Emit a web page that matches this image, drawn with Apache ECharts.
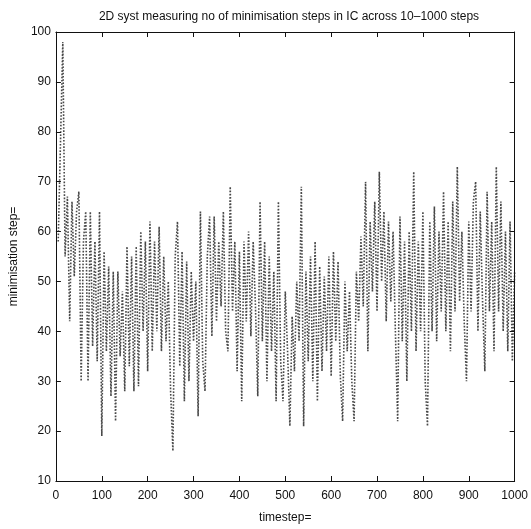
<!DOCTYPE html>
<html>
<head>
<meta charset="utf-8">
<script src="https://cdn.jsdelivr.net/npm/echarts@6/dist/echarts.min.js"></script>
<style>
html,body{margin:0;padding:0;background:#fff;}
#c{width:531px;height:529px;}
</style>
</head>
<body>
<div id="c"></div>
<script>
// sampling step of the timestep axis
const sampleStep = 5;
// minimisation steps, one value per 5 timesteps (t = 5 ... 1000)
const minSteps = [
  58, 78, 98, 55, 67, 42, 66, 51, 64, 68,
  30, 58, 64, 30, 64, 37, 58, 34, 64, 19,
  56, 36, 53, 27, 52, 22, 52, 35, 48, 28,
  57, 33, 55, 28, 57, 29, 60, 40, 58, 32,
  62, 36, 58, 40, 61, 36, 55, 38, 50, 28,
  16, 55, 62, 33, 56, 26, 54, 30, 52, 38,
  50, 23, 64, 34, 28, 55, 63, 39, 63, 42,
  58, 45, 64, 40, 36, 69, 44, 58, 32, 56,
  26, 58, 42, 60, 39, 58, 45, 27, 66, 38,
  58, 30, 55, 36, 52, 26, 66, 34, 26, 48,
  36, 21, 43, 32, 50, 38, 69, 21, 52, 34,
  55, 30, 58, 26, 53, 32, 51, 36, 55, 31,
  56, 38, 54, 31, 22, 50, 36, 48, 30, 22,
  52, 42, 59, 45, 70, 36, 62, 48, 66, 44,
  72, 50, 64, 42, 62, 46, 60, 40, 22, 63,
  38, 58, 30, 60, 40, 72, 36, 58, 40, 64,
  30, 21, 62, 40, 65, 38, 60, 44, 68, 40,
  62, 36, 66, 44, 73, 46, 60, 42, 30, 62,
  44, 66, 70, 40, 64, 46, 32, 68, 44, 62,
  36, 73, 44, 66, 40, 60, 36, 62, 34, 52
];
const xTicks = ['0','100','200','300','400','500','600','700','800','900','1000'];
const yTicks = ['10','20','30','40','50','60','70','80','90','100'];

const seriesData = minSteps.map((v, i) => [(i + 1) * sampleStep, v]);
const font = '"Liberation Sans", Arial, Helvetica, sans-serif';

const chart = echarts.init(document.getElementById('c'), null, {renderer: 'canvas'});
const tickStyle = {show: true, inside: true, length: 5, lineStyle: {color: '#111', width: 1}};
const lineStyleAxis = {show: true, onZero: false, lineStyle: {color: '#111', width: 1}};
chart.setOption({
  animation: false,
  backgroundColor: '#fff',
  title: {
    text: '2D syst measuring no of minimisation steps in IC across 10\u20131000 steps',
    left: 284, top: 6, textAlign: 'center',
    textStyle: {fontFamily: font, fontSize: 12, fontWeight: 'normal', color: '#111'}
  },
  grid: {left: 47, right: 12, top: 32, bottom: 46, containLabel: false},
  xAxis: [{
    type: 'value', min: 0, max: 1000, interval: 100, position: 'bottom',
    axisLine: lineStyleAxis, axisTick: tickStyle, splitLine: {show: false},
    axisLabel: {fontFamily: font, fontSize: 12, color: '#111', margin: 9,
      formatter: (v) => xTicks[Math.round(v / 100)]},
    name: 'timestep=', nameLocation: 'middle', nameGap: 31,
    nameTextStyle: {fontFamily: font, fontSize: 12, color: '#111'}
  }, {
    type: 'value', min: 0, max: 1000, interval: 100, position: 'top',
    axisLine: lineStyleAxis, axisTick: tickStyle, axisLabel: {show: false}, splitLine: {show: false}
  }],
  yAxis: [{
    type: 'value', min: 10, max: 100, interval: 10, position: 'left',
    axisLine: lineStyleAxis, axisTick: tickStyle, splitLine: {show: false},
    axisLabel: {fontFamily: font, fontSize: 12, color: '#111', margin: 5,
      formatter: (v) => yTicks[Math.round((v - 10) / 10)]},
    name: 'minimisation step=', nameLocation: 'middle', nameGap: 22, nameRotate: 90,
    nameTextStyle: {fontFamily: font, fontSize: 12, color: '#111'}
  }, {
    type: 'value', min: 10, max: 100, interval: 10, position: 'right',
    axisLine: lineStyleAxis, axisTick: tickStyle, axisLabel: {show: false}, splitLine: {show: false}
  }],
  series: [{
    type: 'line', data: seriesData, xAxisIndex: 0, yAxisIndex: 0,
    showSymbol: false, symbol: 'none', smooth: false,
    lineStyle: {color: '#1a1a1a', width: 1.6, type: [1.6, 1.6], opacity: 0.8}
  }]
});
</script>
</body>
</html>
